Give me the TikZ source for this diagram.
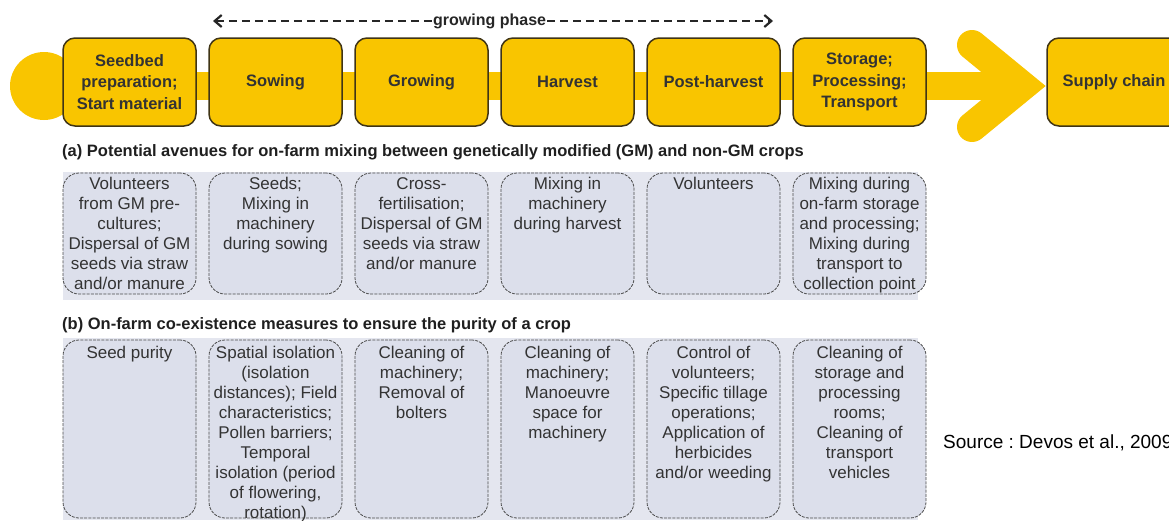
\documentclass[tikz,border=0pt]{standalone}
\usepackage{fontspec}
\setmainfont{Liberation Sans}
\usetikzlibrary{arrows.meta}
\frenchspacing
\definecolor{gold}{HTML}{F9C500}
\definecolor{goldline}{HTML}{3F3416}
\definecolor{lav}{HTML}{DCDFEB}
\definecolor{lavband}{HTML}{E4E6EF}
\definecolor{lavline}{HTML}{4A4A4A}
\definecolor{txt}{HTML}{333333}
\newcommand\lbtxt[3]{\parbox[c][#1][t]{133pt}{\centering\fontsize{17}{20}\selectfont\vspace*{#2}\strut #3}}
\begin{document}
\begin{tikzpicture}[x=1pt,y=-1pt,
  stagebox/.style={draw=goldline, line width=1.5pt, fill=gold, rounded corners=12pt,
    minimum width=133pt, minimum height=88pt, inner sep=0pt, align=center,
    font=\fontsize{16.5}{21.5}\selectfont\bfseries, text=txt},
  lbox/.style={draw=lavline, line width=0.8pt, dash pattern=on 3pt off 1.2pt, fill=lav,
    rounded corners=16pt, inner sep=0pt, text=txt},
  band/.style={draw=gold, line width=28pt},
  head/.style={anchor=west, inner sep=0pt, font=\fontsize{16.5}{19}\selectfont\bfseries, text=black!88},
  phase/.style={draw=black!85, line width=2.2pt, dash pattern=on 8pt off 5pt}
]
\useasboundingbox (0,0) rectangle (1169,520);

% yellow flow band
\node[circle, fill=gold, minimum size=68pt, inner sep=0pt] (start) at (44,86) {};
\coordinate (tip) at (1022,86);
\coordinate (ch1) at (972,45);
\coordinate (ch2) at (972,127);
\draw[band] (start.center) -- (tip);
\draw[band, line width=30pt, line cap=round, line join=miter] (ch1) -- (tip) -- (ch2);

% stage boxes
\node[stagebox] (s1) at (129.5,82) {Seedbed\\preparation;\\Start material};
\node[stagebox] (s2) at (275.5,82) {Sowing};
\node[stagebox] (s3) at (421.5,82) {Growing};
\node[stagebox] (s4) at (567.5,82) {Harvest};
\node[stagebox] (s5) at (713.5,82) {Post-harvest};
\node[stagebox] (s6) at (859.5,82) {Storage;\\Processing;\\Transport};
\node[stagebox, minimum width=134pt] (s7) at (1114,82) {Supply chain};

% growing phase arrow
\coordinate (gl) at (213,21);
\coordinate (gr) at (773,21);
\node[anchor=west, inner sep=1pt, font=\fontsize{16}{18}\selectfont\bfseries, text=black!85] (gp) at (432,21) {growing phase};
\draw[phase, {Straight Barb[length=7pt,width=12pt]}-] (gl) -- (gp.west);
\draw[phase, -{Straight Barb[length=7pt,width=12pt]}] (gp.east) -- (gr);

% (a) row
\node[head] (ha) at (62,152) {(a) Potential avenues for on-farm mixing between genetically modified (GM) and non-GM crops};
\fill[lavband] (63,172) rectangle (918,300);
\node[lbox] (a1) at (129.5,233.5) {\lbtxt{121pt}{2pt}{Volunteers\\from GM pre-\\cultures;\\Dispersal of GM\\seeds via straw\\and/or manure}};
\node[lbox] (a2) at (275.5,233.5) {\lbtxt{121pt}{2pt}{Seeds;\\Mixing in\\machinery\\during sowing}};
\node[lbox] (a3) at (421.5,233.5) {\lbtxt{121pt}{2pt}{Cross-\\fertilisation;\\Dispersal of GM\\seeds via straw\\and/or manure}};
\node[lbox] (a4) at (567.5,233.5) {\lbtxt{121pt}{2pt}{Mixing in\\machinery\\during harvest}};
\node[lbox] (a5) at (713.5,233.5) {\lbtxt{121pt}{2pt}{Volunteers}};
\node[lbox] (a6) at (859.5,233.5) {\lbtxt{121pt}{2pt}{Mixing during\\on-farm storage\\and processing;\\Mixing during\\transport to\\collection point}};

% (b) row
\node[head] (hb) at (62,325) {(b) On-farm co-existence measures to ensure the purity of a crop};
\fill[lavband] (63,338) rectangle (918,520);
\node[lbox] (b1) at (129.5,429) {\lbtxt{178pt}{4pt}{Seed purity}};
\node[lbox] (b2) at (275.5,429) {\lbtxt{178pt}{4pt}{Spatial isolation\\(isolation\\distances); Field\\characteristics;\\Pollen barriers;\\Temporal\\isolation (period\\of flowering,\\rotation)}};
\node[lbox] (b3) at (421.5,429) {\lbtxt{178pt}{4pt}{Cleaning of\\machinery;\\Removal of\\bolters}};
\node[lbox] (b4) at (567.5,429) {\lbtxt{178pt}{4pt}{Cleaning of\\machinery;\\Manoeuvre\\space for\\machinery}};
\node[lbox] (b5) at (713.5,429) {\lbtxt{178pt}{4pt}{Control of\\volunteers;\\Specific tillage\\operations;\\Application of\\herbicides\\and/or weeding}};
\node[lbox] (b6) at (859.5,429) {\lbtxt{178pt}{4pt}{Cleaning of\\storage and\\processing\\rooms;\\Cleaning of\\transport\\vehicles}};

% source
\node[anchor=west, inner sep=0pt, font=\fontsize{19}{22}\selectfont] (src) at (943,443) {Source : Devos et al., 2009};
\end{tikzpicture}
\end{document}
